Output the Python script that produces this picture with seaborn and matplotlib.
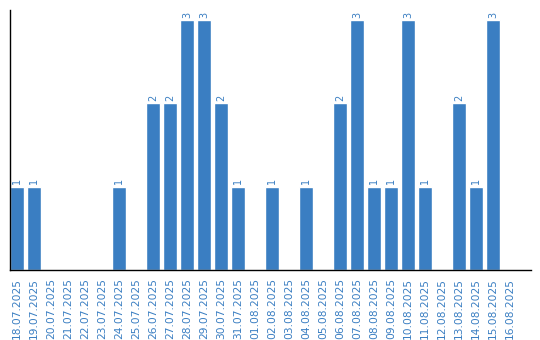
import matplotlib
matplotlib.use("Agg")
import matplotlib.pyplot as plt
import seaborn as sns
import pandas as pd

dates = ["18.07.2025", "19.07.2025", "20.07.2025", "21.07.2025", "22.07.2025",
         "23.07.2025", "24.07.2025", "25.07.2025", "26.07.2025", "27.07.2025",
         "28.07.2025", "29.07.2025", "30.07.2025", "31.07.2025", "01.08.2025",
         "02.08.2025", "03.08.2025", "04.08.2025", "05.08.2025", "06.08.2025",
         "07.08.2025", "08.08.2025", "09.08.2025", "10.08.2025", "11.08.2025",
         "12.08.2025", "13.08.2025", "14.08.2025", "15.08.2025", "16.08.2025"]
counts = [1, 1, 0, 0, 0, 0, 1, 0, 2, 2,
          3, 3, 2, 1, 0, 1, 0, 1, 0, 2,
          3, 1, 1, 3, 1, 0, 2, 1, 3, 0]

color = "#3a7ec2"
df = pd.DataFrame({"date": dates, "count": counts})

sns.set_style("white")
plt.rcParams['font.family'] = ['DejaVu Sans']

fig = plt.figure(figsize=(5.4, 3.4), dpi=100)
ax = fig.add_axes([10 / 540, 70 / 340, 520.7 / 540, 260 / 340])
sns.barplot(data=df, x="date", y="count", color=color, saturation=1,
            width=14 / 17, ax=ax)

for i, v in enumerate(counts):
    if v > 0:
        ax.text(i, v + 0.03, str(v), rotation=90, ha="center", va="bottom",
                fontsize=7, color=color)

ax.set_xlim(-0.41, 30.2)
ax.set_ylim(0, 3.12)
ax.set_xlabel("")
ax.set_ylabel("")
ax.set_yticks([])
ax.tick_params(axis="x", length=0, pad=6, labelsize=7.7, labelcolor=color)
for lbl in ax.get_xticklabels():
    lbl.set_rotation(90)
for s in ["top", "right"]:
    ax.spines[s].set_visible(False)
for s in ["left", "bottom"]:
    ax.spines[s].set_color("black")
    ax.spines[s].set_linewidth(1.0)

fig.savefig("out.png", dpi=100)
